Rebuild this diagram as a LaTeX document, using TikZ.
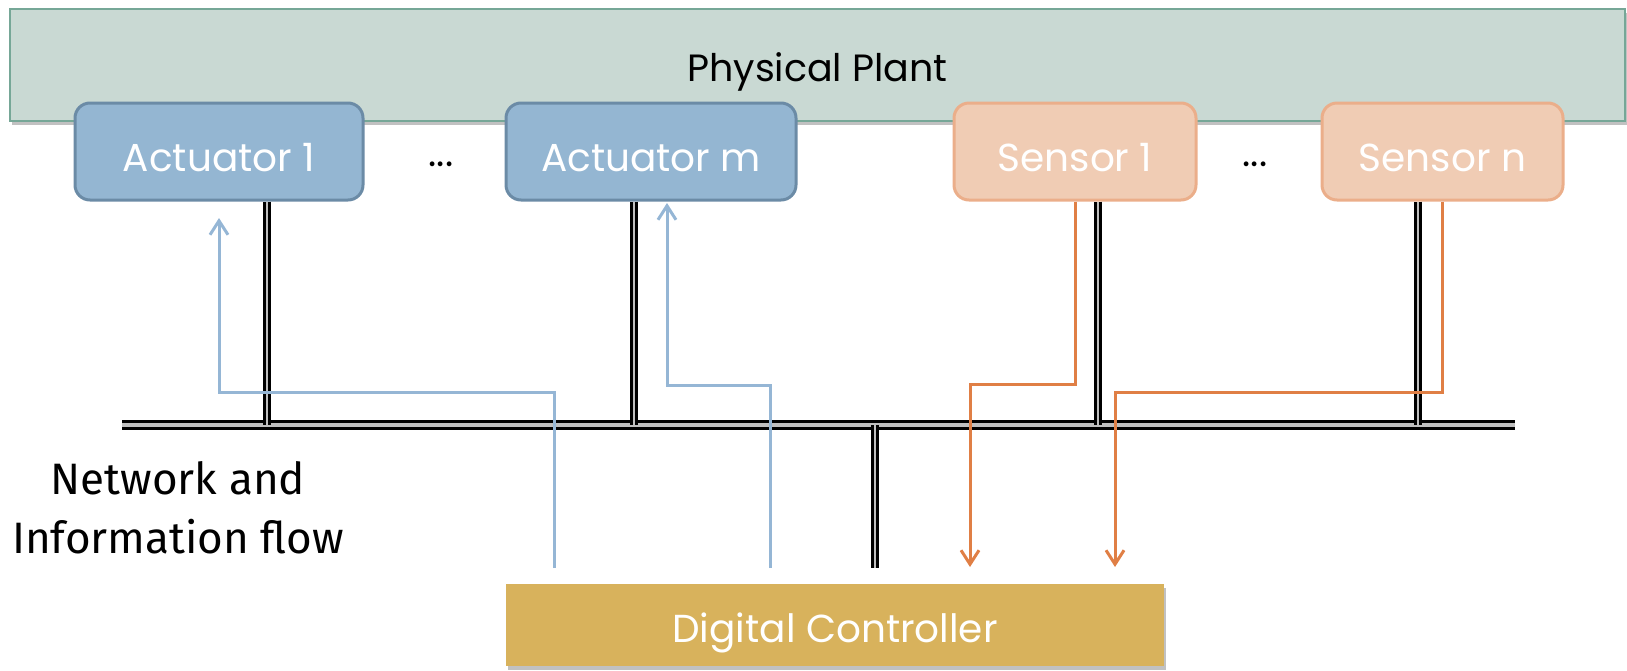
\documentclass[tikz,border=0pt]{standalone}
\usepackage{fontspec}
\setmainfont{Poppins}
\newfontfamily\notefont{Fira Sans}
\usetikzlibrary{arrows.meta,shadows}
\definecolor{plantfill}{HTML}{C9D9D3}
\definecolor{plantdraw}{HTML}{76A797}
\definecolor{actfill}{HTML}{94B6D2}
\definecolor{actdraw}{HTML}{6B8BA6}
\definecolor{senfill}{HTML}{F0CCB4}
\definecolor{sendraw}{HTML}{EBAE8A}
\definecolor{ctrlfill}{HTML}{D8B25C}
\definecolor{bluearrow}{HTML}{95B6D5}
\definecolor{orangearrow}{HTML}{E07F45}
\begin{document}
\begin{tikzpicture}[x=1pt,y=-1pt,
  shadowed/.style={drop shadow={shadow xshift=2pt,shadow yshift=-4pt,opacity=0.35,fill=black!70}},
  labelfont/.style={font=\fontsize{39}{46}\selectfont},
  plantbox/.style={rectangle,fill=plantfill,draw=plantdraw,line width=2pt,shadowed,font=\fontsize{38}{46}\selectfont,text=black,inner sep=0pt,text height=32pt,text depth=0pt},
  actbox/.style={rectangle,rounded corners=15pt,fill=actfill,draw=actdraw,line width=3pt,labelfont,text=white,minimum height=97pt,inner sep=0pt,text height=39pt,text depth=0pt},
  senbox/.style={actbox,fill=senfill,draw=sendraw},
  ctrlbox/.style={rectangle,fill=ctrlfill,shadowed,labelfont,text=white,inner sep=0pt,text height=34pt,text depth=0pt},
  dotsnode/.style={labelfont,text=black,inner sep=0pt},
  notenode/.style={font=\notefont\fontsize{44}{59}\selectfont,align=center,inner sep=0pt},
  dbl/.style={draw=black,double=black!25,line width=2.4pt,double distance=2.6pt},
  busline/.style={draw=black,double=black!25,line width=3.2pt,double distance=3.2pt},
  blueflow/.style={draw=bluearrow,line width=3pt,-{Straight Barb[length=14pt,width=18pt,line width=3pt]}},
  orangeflow/.style={draw=orangearrow,line width=3pt,-{Straight Barb[length=14pt,width=18pt,line width=3pt]}}
]
\useasboundingbox (0,0) rectangle (1627,670);

% boxes
\node[plantbox,minimum width=1615pt,minimum height=112pt] (plant) at (817.5,65) {Physical Plant};
\node[actbox,minimum width=288pt] (act1) at (219,151.5) {Actuator 1};
\node[actbox,minimum width=290pt] (actm) at (651,151.5) {Actuator m};
\node[senbox,minimum width=242pt] (sen1) at (1075,151.5) {Sensor 1};
\node[senbox,minimum width=241pt] (senn) at (1442.5,151.5) {Sensor n};
\node[dotsnode] (dots1) at (441,164) {...};
\node[dotsnode] (dots2) at (1255,164) {...};
\node[ctrlbox,minimum width=658pt,minimum height=82pt] (ctrl) at (835,625) {Digital Controller};
\node[notenode] (note) at (178,508) {Network and\\Information flow};

% bus
\coordinate (busL) at (122,425);
\coordinate (busR) at (1515,425);
\coordinate (b1) at (267,425);
\coordinate (b2) at (634,425);
\coordinate (b3) at (1098,425);
\coordinate (b4) at (1418,425);
\coordinate (b5) at (875,425);
\coordinate (c5) at (875,568);
\draw[busline] (busL) -- (busR);
\draw[dbl] (act1.south -| b1) -- (b1);
\draw[dbl] (actm.south -| b2) -- (b2);
\draw[dbl] (sen1.south -| b3) -- (b3);
\draw[dbl] (senn.south -| b4) -- (b4);
\draw[dbl] (b5) -- (c5);

% blue flows (controller -> actuators)
\coordinate (ba1) at (554,568);
\coordinate (bk1) at (219,392);
\coordinate (bt1) at (219,218);
\coordinate (ba2) at (770,568);
\coordinate (bk2) at (667,385);
\coordinate (bt2) at (667,203);
\draw[blueflow] (ba1) |- (bk1) -- (bt1);
\draw[blueflow] (ba2) |- (bk2) -- (bt2);

% orange flows (sensors -> controller)
\coordinate (ok1) at (970,384);
\coordinate (ot1) at (970,567);
\coordinate (ok2) at (1115,392);
\coordinate (ot2) at (1115,567);
\draw[orangeflow] (sen1.south) |- (ok1) -- (ot1);
\draw[orangeflow] (senn.south) |- (ok2) -- (ot2);
\end{tikzpicture}
\end{document}
